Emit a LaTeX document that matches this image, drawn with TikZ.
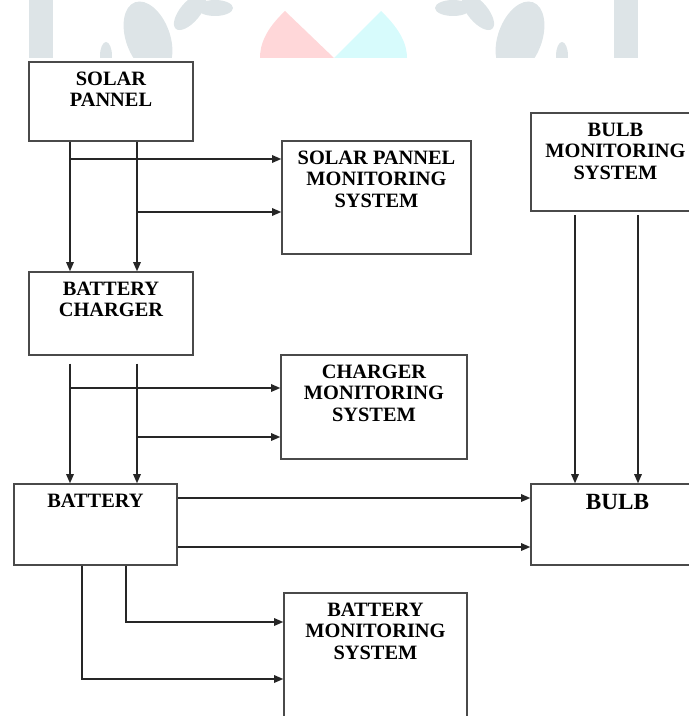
\documentclass[tikz,border=0pt]{standalone}
\usepackage{fontspec}
\setmainfont{Liberation Serif}
\usetikzlibrary{arrows.meta, positioning, calc}
\definecolor{boxline}{HTML}{4A4A4A}
\definecolor{wmgray}{HTML}{DDE4E7}
\definecolor{wmpink}{HTML}{FFD7D9}
\definecolor{wmcyan}{HTML}{D7FBFC}

\begin{document}
\begin{tikzpicture}[
    x=0.025cm, y=-0.025cm,
    blk/.style 2 args={rectangle, draw=boxline, line width=1pt, minimum width=#1, minimum height=#2, inner sep=0pt},
    txt/.style={anchor=north, inner sep=0pt, yshift=-0.26cm, align=center, font=\bfseries\fontsize{14.5}{15.3}\selectfont},
    arr/.style={-{Triangle[length=2.3mm, width=1.9mm]}, line width=1pt, color=black!85}
]
\useasboundingbox (0,0) rectangle (689,716);

% watermark
\begin{scope}
\clip (0,0) rectangle (689,58);
\fill[wmgray] (29,0) rectangle (53,58);
\fill[wmgray] (614,0) rectangle (638,58);
\fill[wmgray, rotate around={20:(148,38)}] (148,38) ellipse [x radius=22, y radius=38];
\fill[wmgray, rotate around={-40:(190,12)}] (190,12) ellipse [x radius=10, y radius=22];
\fill[wmgray] (215,8) ellipse [x radius=18, y radius=8];
\fill[wmgray] (106,56) ellipse [x radius=6, y radius=14];
\fill[wmgray, rotate around={-20:(520,38)}] (520,38) ellipse [x radius=22, y radius=38];
\fill[wmgray, rotate around={40:(478,12)}] (478,12) ellipse [x radius=10, y radius=22];
\fill[wmgray] (453,8) ellipse [x radius=18, y radius=8];
\fill[wmgray] (562,56) ellipse [x radius=6, y radius=14];
\fill[wmpink] (285,11) .. controls (265,30) and (260,45) .. (260,58) -- (334,58) -- cycle;
\fill[wmcyan] (381,11) .. controls (401,30) and (407,45) .. (407,58) -- (334,58) -- cycle;
\end{scope}

% Main chain
\node[blk={4.1cm}{1.975cm}, label={[txt]north:SOLAR\\PANNEL}] (panel) at (111,101.5) {};
\node[blk={4.1cm}{2.075cm}, label={[txt]north:BATTERY\\CHARGER}] (charger) at (111,313.5) {};
\node[blk={4.075cm}{2.025cm}, label={[txt]north:BATTERY}] (battery) at (95.5,524.5) {};
\node[blk={4.325cm}{2.025cm}, label={[txt, font=\bfseries\fontsize{16.5}{18}\selectfont]north:BULB}] (bulb) at (617.5,524.5) {};

% Monitoring systems
\node[blk={4.725cm}{2.825cm}, label={[txt]north:SOLAR PANNEL\\MONITORING\\SYSTEM}] (panelmon) at (376.5,197.5) {};
\node[blk={4.65cm}{2.6cm}, label={[txt]north:CHARGER\\MONITORING\\SYSTEM}] (chargermon) at (374,407) {};
\node[blk={4.575cm}{3.425cm}, label={[txt]north:BATTERY\\MONITORING\\SYSTEM}] (batterymon) at (375.5,661.5) {};
\node[blk={4.225cm}{2.45cm}, label={[txt]north:BULB\\MONITORING\\SYSTEM}] (bulbmon) at (615.5,162) {};

% tap points
\coordinate (left) at (70,0);
\coordinate (right) at (137,0);
\coordinate (tapa) at (70,159);
\coordinate (tapb) at (137,212);
\coordinate (tapc) at (70,388);
\coordinate (tapd) at (137,437);
\coordinate (outa) at (0,498);
\coordinate (outb) at (0,547);
\coordinate (bendA) at (126,622);
\coordinate (bendB) at (82,679);
\coordinate (bulbl) at (575,0);
\coordinate (bulbr) at (638,0);

% panel -> charger
\draw[arr] (panel.south -| left) -- (charger.north -| left);
\draw[arr] (panel.south -| right) -- (charger.north -| right);
\draw[arr] (tapa) -- (panelmon.west |- tapa);
\draw[arr] (tapb) -- (panelmon.west |- tapb);

% charger -> battery
\draw[arr, shorten <=2mm] (charger.south -| left) -- (battery.north -| left);
\draw[arr, shorten <=2mm] (charger.south -| right) -- (battery.north -| right);
\draw[arr] (tapc) -- (chargermon.west |- tapc);
\draw[arr] (tapd) -- (chargermon.west |- tapd);

% battery -> bulb
\draw[arr] (battery.east |- outa) -- (bulb.west |- outa);
\draw[arr] (battery.east |- outb) -- (bulb.west |- outb);
\draw[arr, shorten <=0.8mm] (bulbmon.south -| bulbl) -- (bulb.north -| bulbl);
\draw[arr, shorten <=0.8mm] (bulbmon.south -| bulbr) -- (bulb.north -| bulbr);

% battery -> monitoring
\draw[arr] (battery.south -| bendA) |- (batterymon.west |- bendA);
\draw[arr] (battery.south -| bendB) |- (batterymon.west |- bendB);

\end{tikzpicture}
\end{document}
